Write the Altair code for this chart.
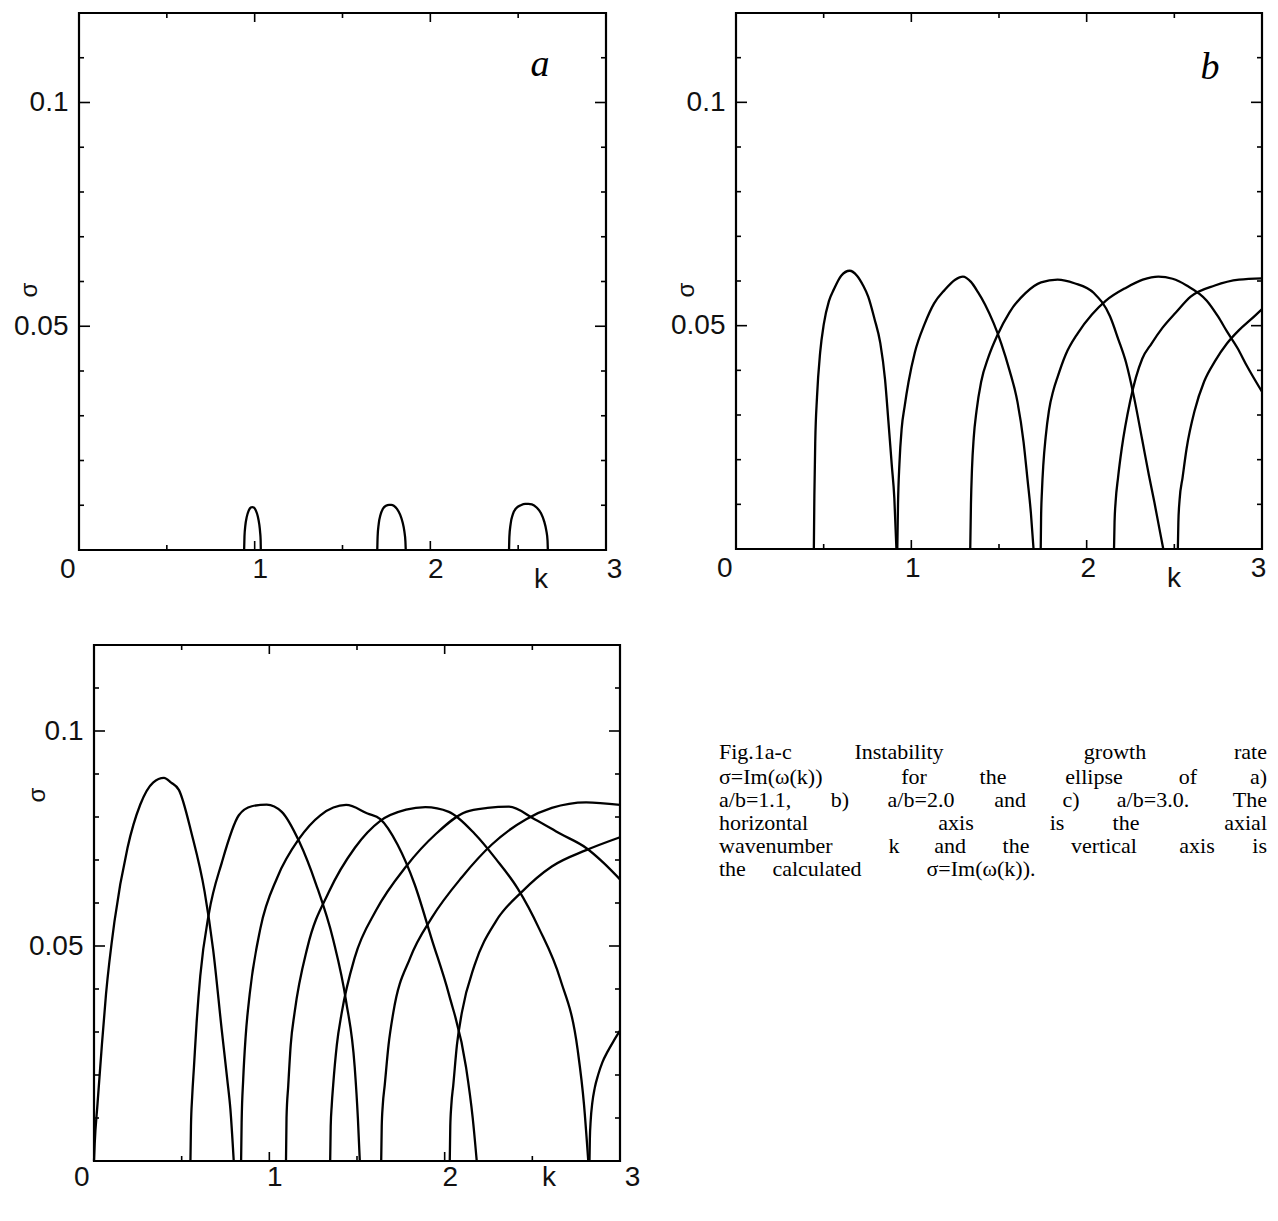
import altair as alt
import pandas as pd

FONT = "Liberation Sans"
SERIF = "Liberation Serif"
X_DOMAIN = [0, 3]
Y_DOMAIN = [0, 0.12]

# ---------------- panel a (a/b = 1.1) ----------------
a1_k = [0.940, 0.942, 0.947, 0.955, 0.966, 0.978, 0.986, 0.995, 1.007, 1.018, 1.026, 1.031, 1.034, 1.035]
a1_s = [0.0, 0.0030, 0.0055, 0.0074, 0.0088, 0.0095, 0.0096, 0.0095, 0.0088, 0.0075, 0.0058, 0.0040, 0.0022, 0.0]
a2_k = [1.698, 1.700, 1.706, 1.716, 1.730, 1.748, 1.765, 1.778, 1.792, 1.810, 1.828, 1.842, 1.852, 1.858, 1.860]
a2_s = [0.0, 0.0030, 0.0058, 0.0078, 0.0092, 0.0099, 0.0101, 0.0101, 0.0099, 0.0092, 0.0079, 0.0062, 0.0042, 0.0020, 0.0]
a3_k = [2.448, 2.450, 2.457, 2.470, 2.490, 2.515, 2.540, 2.558, 2.578, 2.605, 2.630, 2.648, 2.660, 2.667, 2.669]
a3_s = [0.0, 0.0030, 0.0058, 0.0080, 0.0094, 0.0100, 0.0103, 0.0103, 0.0102, 0.0095, 0.0082, 0.0064, 0.0044, 0.0022, 0.0]

# ---------------- panel b (a/b = 2.0) ----------------
b1_k = [0.444, 0.447, 0.452, 0.462, 0.480, 0.501, 0.530, 0.559, 0.600, 0.648, 0.690, 0.725, 0.754, 0.790, 0.823, 0.850, 0.869, 0.888, 0.903, 0.915]
b1_s = [0.0, 0.012, 0.024, 0.034, 0.044, 0.0504, 0.0555, 0.0582, 0.0612, 0.0623, 0.0612, 0.0590, 0.0565, 0.0515, 0.0461, 0.0380, 0.0287, 0.0190, 0.0114, 0.0]
b2_k = [0.920, 0.924, 0.932, 0.945, 0.962, 0.984, 1.020, 1.076, 1.130, 1.190, 1.250, 1.294, 1.340, 1.380, 1.421, 1.470, 1.513, 1.560, 1.605, 1.640, 1.662, 1.682, 1.697]
b2_s = [0.0, 0.010, 0.019, 0.027, 0.032, 0.0374, 0.044, 0.0504, 0.055, 0.058, 0.0603, 0.061, 0.0598, 0.0575, 0.0547, 0.0505, 0.046, 0.040, 0.033, 0.024, 0.0158, 0.008, 0.0]
b3_k = [1.336, 1.340, 1.346, 1.356, 1.372, 1.398, 1.440, 1.490, 1.560, 1.651, 1.740, 1.834, 1.930, 2.041, 2.133, 2.180, 2.225, 2.270, 2.317, 2.355, 2.386, 2.415, 2.437]
b3_s = [0.0, 0.010, 0.018, 0.025, 0.031, 0.0374, 0.043, 0.0478, 0.053, 0.0573, 0.0597, 0.0603, 0.0595, 0.0573, 0.0521, 0.047, 0.0417, 0.034, 0.0244, 0.0165, 0.0105, 0.0045, 0.0]
b4_k = [1.738, 1.740, 1.745, 1.753, 1.766, 1.785, 1.810, 1.834, 1.880, 1.949, 2.030, 2.110, 2.225, 2.320, 2.409, 2.490, 2.570, 2.685, 2.750, 2.800, 2.860, 2.915, 3.0]
b4_s = [0.0, 0.007, 0.013, 0.019, 0.025, 0.031, 0.0355, 0.0385, 0.0435, 0.0483, 0.0525, 0.0556, 0.0585, 0.0603, 0.061, 0.0605, 0.059, 0.0556, 0.052, 0.0487, 0.045, 0.0409, 0.0352]
b5_k = [2.156, 2.159, 2.165, 2.179, 2.200, 2.248, 2.317, 2.370, 2.432, 2.510, 2.593, 2.731, 2.869, 3.0]
b5_s = [0.0, 0.006, 0.0105, 0.016, 0.0225, 0.0331, 0.0426, 0.046, 0.0495, 0.053, 0.0565, 0.059, 0.0603, 0.0606]
b6_k = [2.520, 2.523, 2.530, 2.547, 2.570, 2.616, 2.670, 2.731, 2.800, 2.869, 2.940, 3.0]
b6_s = [0.0, 0.006, 0.011, 0.016, 0.0225, 0.031, 0.0375, 0.042, 0.046, 0.049, 0.0515, 0.0537]

# ---------------- panel c (a/b = 3.0) ----------------
c1_k = [0.0, 0.004, 0.020, 0.045, 0.0685, 0.117, 0.191, 0.264, 0.337, 0.399, 0.440, 0.484, 0.557, 0.631, 0.680, 0.729, 0.760, 0.778, 0.797]
c1_s = [0.0, 0.004, 0.0133, 0.027, 0.0388, 0.0558, 0.0728, 0.0829, 0.088, 0.0891, 0.088, 0.0863, 0.0761, 0.0626, 0.049, 0.0303, 0.019, 0.012, 0.0]
c2_k = [0.550, 0.553, 0.560, 0.570, 0.585, 0.606, 0.655, 0.729, 0.826, 0.900, 0.985, 1.071, 1.169, 1.267, 1.364, 1.438, 1.487, 1.505, 1.516]
c2_s = [0.0, 0.008, 0.015, 0.0218, 0.032, 0.043, 0.0575, 0.0694, 0.0804, 0.0825, 0.0829, 0.0812, 0.0744, 0.0643, 0.0515, 0.0371, 0.0218, 0.010, 0.0]
c3_k = [0.839, 0.842, 0.851, 0.865, 0.888, 0.949, 1.046, 1.169, 1.291, 1.438, 1.560, 1.633, 1.731, 1.829, 1.927, 2.024, 2.122, 2.160, 2.183]
c3_s = [0.0, 0.009, 0.019, 0.029, 0.0388, 0.0541, 0.066, 0.0749, 0.0804, 0.0828, 0.0808, 0.0795, 0.0736, 0.0643, 0.0515, 0.0388, 0.0218, 0.010, 0.0]
c4_k = [1.095, 1.098, 1.108, 1.122, 1.144, 1.218, 1.340, 1.487, 1.633, 1.780, 1.890, 2.024, 2.171, 2.293, 2.416, 2.538, 2.660, 2.758, 2.795, 2.819]
c4_s = [0.0, 0.010, 0.0176, 0.027, 0.0345, 0.0498, 0.0626, 0.0728, 0.0791, 0.0817, 0.0823, 0.0812, 0.0761, 0.0702, 0.0634, 0.0541, 0.0422, 0.026, 0.013, 0.0]
c5_k = [1.347, 1.350, 1.356, 1.364, 1.385, 1.413, 1.487, 1.609, 1.780, 1.951, 2.122, 2.244, 2.367, 2.513, 2.660, 2.807, 2.905, 3.0]
c5_s = [0.0, 0.008, 0.013, 0.0176, 0.027, 0.0345, 0.0473, 0.0583, 0.0685, 0.0761, 0.0812, 0.0821, 0.0824, 0.0795, 0.0761, 0.0728, 0.0694, 0.0655]
c6_k = [1.638, 1.641, 1.647, 1.658, 1.680, 1.707, 1.804, 1.927, 2.098, 2.269, 2.465, 2.611, 2.807, 3.0]
c6_s = [0.0, 0.008, 0.013, 0.0176, 0.027, 0.0345, 0.0473, 0.0566, 0.066, 0.0736, 0.0795, 0.0821, 0.0834, 0.0828]
c7_k = [2.029, 2.032, 2.038, 2.049, 2.070, 2.098, 2.171, 2.293, 2.440, 2.611, 2.807, 3.0]
c7_s = [0.0, 0.008, 0.013, 0.0176, 0.027, 0.0345, 0.0456, 0.0558, 0.0626, 0.0685, 0.0723, 0.0753]
c8_k = [2.826, 2.828, 2.833, 2.842, 2.856, 2.875, 2.900, 2.930, 2.965, 3.0]
c8_s = [0.0, 0.005, 0.0095, 0.0135, 0.017, 0.020, 0.023, 0.0255, 0.028, 0.0303]

# ---------------- axes / ticks ----------------
x_label_values = [0, 1, 2, 3]
y_label_values = [0.05, 0.1]
x_major = [1, 2]
x_minor = [0.5, 1.5, 2.5]
y_major = [0.05, 0.1]
y_minor = [0.01, 0.02, 0.03, 0.04, 0.06, 0.07, 0.08, 0.09, 0.11]

# ---------------- caption (justified words) ----------------
cap_words = ["Fig.1a-c", "Instability", "growth", "rate",
             "σ=Im(ω(k))", "for", "the", "ellipse", "of", "a)",
             "a/b=1.1,", "b)", "a/b=2.0", "and", "c)", "a/b=3.0.", "The",
             "horizontal", "axis", "is", "the", "axial",
             "wavenumber", "k", "and", "the", "vertical", "axis", "is",
             "the", "calculated", "σ=Im(ω(k))."]
cap_line = [0, 0, 0, 0,
            1, 1, 1, 1, 1, 1,
            2, 2, 2, 2, 2, 2, 2,
            3, 3, 3, 3, 3,
            4, 4, 4, 4, 4, 4, 4,
            5, 5, 5]
cap_anchor = ["left", "center", "center", "right",
              "left", "center", "center", "center", "center", "right",
              "left", "center", "center", "center", "center", "center", "right",
              "left", "center", "center", "center", "right",
              "left", "center", "center", "center", "center", "center", "right",
              "left", "center", "center"]
cap_x = [625, 805, 1021, 1173,
         625, 820, 899, 1000, 1094, 1173,
         625, 746, 827, 916, 977, 1059, 1173,
         625, 862, 963, 1032, 1173,
         625, 800, 856, 922, 1010, 1103, 1173,
         625, 723, 887]
cap_line_y = [107, 132, 155, 178, 201, 224]


def curves_frame(curves):
    rows = []
    for name, ks, ss in curves:
        for k, s in zip(ks, ss):
            rows.append({"curve": name, "k": k, "s": s})
    return pd.DataFrame(rows)


def make_axes(pad, off0, off3, off):
    xaxis = alt.Axis(
        values=x_label_values, format="d", ticks=False, domain=False, grid=False,
        labelFont=FONT, labelFontSize=28, labelColor="#111111", labelPadding=pad,
        labelAlign={"condition": {"test": "datum.value == 0", "value": "right"}, "value": "center"},
        labelOffset={"condition": [{"test": "datum.value == 0", "value": off0},
                                   {"test": "datum.value == 3", "value": off3}], "value": off},
        labelFlush=False, title=None,
    )
    yaxis = alt.Axis(
        values=y_label_values, format="~g", ticks=False, domain=False, grid=False,
        labelFont=FONT, labelFontSize=28, labelColor="#111111", labelPadding=11, title=None,
    )
    return xaxis, yaxis


def panel(curves, W, H, sigma_x, sigma_y, k_x, k_y, pad, off0, off3, off,
          letter=None, letter_x=0, letter_y=0):
    xs = alt.Scale(domain=X_DOMAIN, nice=False, zero=False)
    ys = alt.Scale(domain=Y_DOMAIN, nice=False, zero=False)
    xaxis, yaxis = make_axes(pad, off0, off3, off)
    lines = alt.Chart(curves_frame(curves)).mark_line(
        color="black", strokeWidth=2.3, interpolate="monotone"
    ).encode(
        x=alt.X("k:Q", scale=xs, axis=xaxis),
        y=alt.Y("s:Q", scale=ys, axis=yaxis),
        detail="curve:N",
    )
    layers = [lines]
    tick_style = dict(color="black", strokeWidth=1.6)
    for vals, ln in ((x_major, 9), (x_minor, 5)):
        d = pd.DataFrame({"k": vals})
        layers.append(alt.Chart(d).mark_rule(**tick_style).encode(
            x=alt.X("k:Q", scale=xs, axis=xaxis), y=alt.value(H), y2=alt.value(H - ln)))
        layers.append(alt.Chart(d).mark_rule(**tick_style).encode(
            x=alt.X("k:Q", scale=xs, axis=xaxis), y=alt.value(0), y2=alt.value(ln)))
    for vals, ln in ((y_major, 11), (y_minor, 5)):
        d = pd.DataFrame({"s": vals})
        layers.append(alt.Chart(d).mark_rule(**tick_style).encode(
            y=alt.Y("s:Q", scale=ys, axis=yaxis), x=alt.value(0), x2=alt.value(ln)))
        layers.append(alt.Chart(d).mark_rule(**tick_style).encode(
            y=alt.Y("s:Q", scale=ys, axis=yaxis), x=alt.value(W), x2=alt.value(W - ln)))
    # axis titles
    layers.append(alt.Chart(pd.DataFrame({"t": ["σ"]})).mark_text(
        font=FONT, fontSize=24, color="#111111", angle=270, align="center", baseline="middle"
    ).encode(text="t:N", x=alt.value(sigma_x), y=alt.value(sigma_y)))
    layers.append(alt.Chart(pd.DataFrame({"t": ["k"]})).mark_text(
        font=FONT, fontSize=28, color="#111111", align="center", baseline="alphabetic"
    ).encode(text="t:N", x=alt.value(k_x), y=alt.value(H + k_y)))
    if letter:
        layers.append(alt.Chart(pd.DataFrame({"t": [letter]})).mark_text(
            font=SERIF, fontStyle="italic", fontSize=38, color="black", align="center", baseline="middle"
        ).encode(text="t:N", x=alt.value(letter_x), y=alt.value(letter_y)))
    return layers, W, H


FRAME = alt.ViewBackground(stroke="black", strokeWidth=2.2)
NOFRAME = alt.ViewBackground(stroke="transparent")

la, Wa, Ha = panel([("a1", a1_k, a1_s), ("a2", a2_k, a2_s), ("a3", a3_k, a3_s)],
                   527, 537, sigma_x=-49, sigma_y=277, k_x=462, k_y=38, pad=5, off0=-4, off3=8, off=5,
                   letter="a", letter_x=461, letter_y=52)
lb, Wb, Hb = panel([("b1", b1_k, b1_s), ("b2", b2_k, b2_s), ("b3", b3_k, b3_s),
                    ("b4", b4_k, b4_s), ("b5", b5_k, b5_s), ("b6", b6_k, b6_s)],
                   526, 536, sigma_x=-49, sigma_y=277, k_x=438, k_y=38, pad=5, off0=-4, off3=-4, off=1,
                   letter="b", letter_x=474, letter_y=55)
lc, Wc, Hc = panel([("c1", c1_k, c1_s), ("c2", c2_k, c2_s), ("c3", c3_k, c3_s), ("c4", c4_k, c4_s),
                    ("c5", c5_k, c5_s), ("c6", c6_k, c6_s), ("c7", c7_k, c7_s), ("c8", c8_k, c8_s)],
                   526, 516, sigma_x=-56, sigma_y=150, k_x=455, k_y=25, pad=2, off0=-5, off3=12, off=5)

cap_df = pd.DataFrame({
    "word": cap_words,
    "anchor": cap_anchor,
    "px": cap_x,
    "py": [cap_line_y[i] for i in cap_line],
})
for anchor in ("left", "center", "right"):
    lc.append(alt.Chart(cap_df).transform_filter(alt.datum.anchor == anchor).mark_text(
        font=SERIF, fontSize=22, color="black", align=anchor, baseline="middle",
    ).encode(text="word:N", x=alt.X("px:Q", scale=None), y=alt.Y("py:Q", scale=None)))

pa = alt.layer(*la).properties(width=Wa, height=Ha, view=FRAME)
pb = alt.layer(*lb).properties(width=Wb, height=Hb, view=FRAME)
pc = alt.layer(*lc).properties(width=Wc, height=Hc, view=FRAME)


def spacer():
    # empty 1x1 cell used only to offset panel frames horizontally
    return alt.Chart(pd.DataFrame({"t": [0]})).mark_rect(opacity=0).encode(
        x=alt.value(0), x2=alt.value(1), y=alt.value(0), y2=alt.value(1)
    ).properties(width=1, height=1, view=NOFRAME)


top = alt.hconcat(alt.hconcat(spacer(), pa, spacing=1), pb, spacing=46)
bottom = alt.hconcat(spacer(), pc, spacing=13)
chart = alt.vconcat(top, bottom, spacing=47).properties(
    padding={"left": 0, "top": 3, "right": 0, "bottom": 0}
)

chart.save("out.html", embed_options={"renderer": "svg", "actions": False})
